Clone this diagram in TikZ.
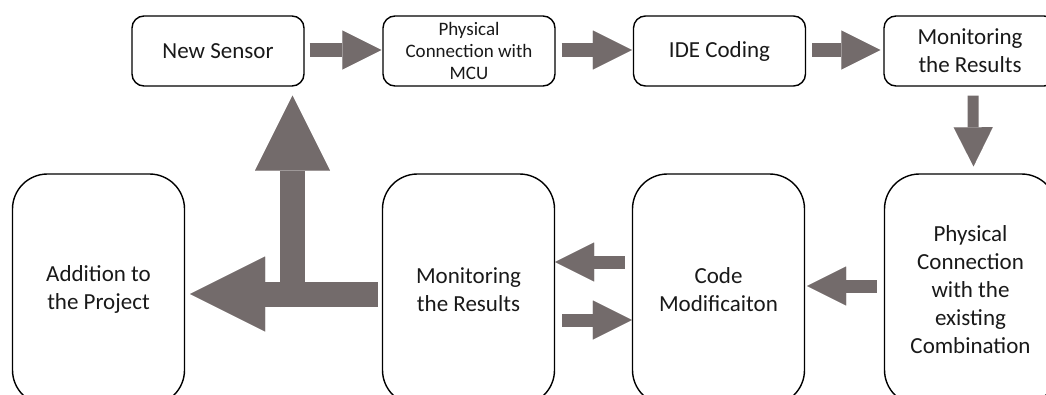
\documentclass[tikz,border=0pt]{standalone}
\usepackage{fontspec}
\setmainfont{Carlito}
\usetikzlibrary{arrows.meta}
\definecolor{acol}{RGB}{115,107,107}
\definecolor{tcol}{RGB}{25,25,25}
\tikzset{
  topbox/.style={draw=black, line width=1.4pt, rounded corners=12pt, minimum width=172pt, minimum height=70pt, inner sep=0pt, align=center, text=tcol, font=\fontsize{23}{28}\selectfont},
  botbox/.style={draw=black, line width=1.4pt, rounded corners=35pt, minimum width=172pt, minimum height=231pt, inner sep=0pt, align=center, text=tcol, font=\fontsize{23}{28}\selectfont},
  smallarrow/.style={draw=acol, line width=14pt, -{Triangle[length=39pt,width=39pt,line width=0.01pt]}},
  bigarrow/.style={draw=acol, line width=25pt, -{Triangle[length=75pt,width=75pt,line width=0.01pt]}}
}
\begin{document}
\begin{tikzpicture}[x=1pt,y=-1pt]
\useasboundingbox (0,0) rectangle (1046,394);
\clip (0,0) rectangle (1046,394);
% top row
\node[topbox] (n1) at (218,51) {New Sensor};
\node[topbox, font=\fontsize{19}{22}\selectfont] (n2) at (469,51) {Physical\\Connection with\\MCU};
\node[topbox] (n3) at (719.5,51) {IDE Coding};
\node[topbox] (n4) at (970,51) {Monitoring\\the Results};
% bottom row
\node[botbox] (add) at (98.5,289.5) {Addition to\\the Project};
\node[botbox] (m2) at (468.5,289.5) {Monitoring\\the Results};
\node[botbox] (code) at (718.5,289.5) {Code\\Modificaiton};
\node[botbox] (phys) at (970.5,289.5) {Physical\\Connection\\with the\\existing\\Combination};
% top arrows
\draw[smallarrow] ([xshift=5pt,yshift=1pt]n1.east) -- ([xshift=-1pt,yshift=1pt]n2.west);
\draw[smallarrow] ([xshift=6pt,yshift=1pt]n2.east) -- ([xshift=-1pt,yshift=1pt]n3.west);
\draw[smallarrow] ([xshift=6pt,yshift=1pt]n3.east) -- ([xshift=-3pt,yshift=1pt]n4.west);
\draw[smallarrow, line width=11pt] ([xshift=3pt,yshift=-9pt]n4.south) -- ([xshift=3pt,yshift=7pt]phys.north);
% bottom arrows
\draw[smallarrow, line width=13pt] ([xshift=-7pt,yshift=3.5pt]phys.west) -- ([xshift=2pt,yshift=3.5pt]code.east);
\draw[smallarrow, line width=13pt] ([xshift=-7pt,yshift=27.5pt]code.west) -- ([xshift=0pt,yshift=27.5pt]m2.east);
\draw[smallarrow, line width=13pt] ([xshift=7pt,yshift=-30.5pt]m2.east) -- ([xshift=0pt,yshift=-30.5pt]code.west);
% big L arrow
\coordinate (j) at (292.5,307);
\draw[bigarrow] ([xshift=-4pt,yshift=-4.5pt]m2.west) -- ([xshift=5pt,yshift=-4.5pt]add.east);
\draw[bigarrow] (j) -- ([yshift=-9pt]n1.south -| j);
\end{tikzpicture}
\end{document}
